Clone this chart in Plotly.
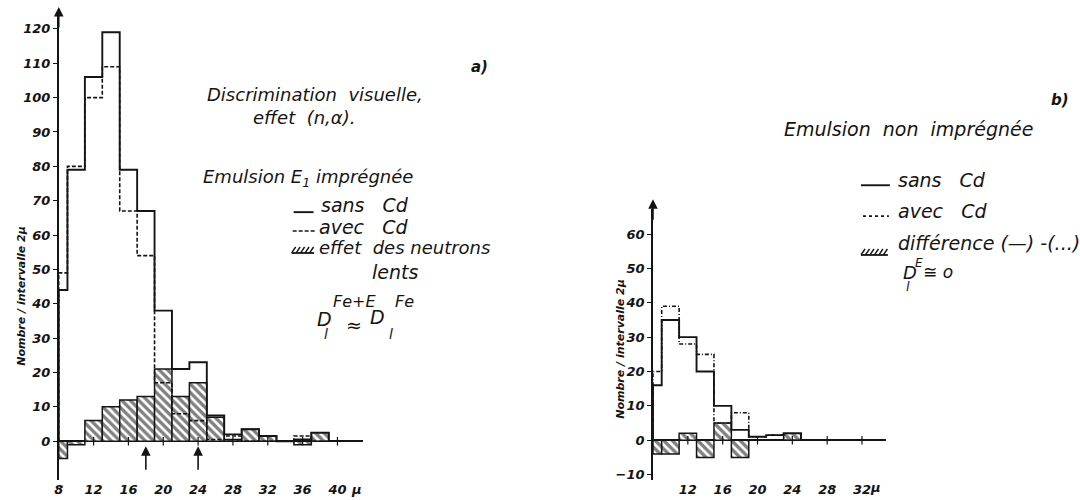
import plotly.graph_objects as go

W, H = 1080, 500
INK = "#141414"
FONT = "DejaVu Sans, sans-serif"

# a) emulsion E1 impregnee : bin edges (micron) and counts per bin
edges_a = [8, 9, 11, 13, 15, 17, 19, 21, 23, 25, 27, 29, 31, 33, 35, 37, 39]
sans_cd_a = [44, 79, 106, 119, 79, 67, 38, 21, 23, 7.5, 2, 3.5, 1.5, 0, 0.5, 2.5]
avec_cd_a = [49, 80, 100, 109, 67, 54, 17, 8, 6, 0.5, 1.5, 0, 0, 0, 1.5, 0]
effet_a = [-5, -1, 6, 10, 12, 13, 21, 13, 17, 7, 0.5, 3.5, 1.5, 0, -1, 2.5]

# b) emulsion non impregnee
edges_b = [8, 9, 11, 13, 15, 17, 19, 21, 23, 25]
sans_cd_b = [16, 35, 30, 20, 10, 3, 1, 1.5, 2]
avec_cd_b = [20, 39, 28, 25, 5, 8, 1, 1.5, 0]
diff_b = [-4, -4, 2, -5, 5, -5, 0, 0, 2]

xticks_a = [8, 12, 16, 20, 24, 28, 32, 36, 40]
xticks_b = [12, 16, 20, 24, 28, 32]
yticks_a = [0, 10, 20, 30, 40, 50, 60, 70, 80, 90, 100, 110, 120]
yticks_b = [-10, 0, 10, 20, 30, 40, 50, 60]
arrows_a = [18, 24]


def px(x):
    return x / W


def py(y):
    return 1 - y / H


def steps(edges, vals):
    return [edges[0]] + edges, [0] + vals + [0]


def bins(edges):
    centers = [(a + b) / 2 for a, b in zip(edges[:-1], edges[1:])]
    widths = [b - a for a, b in zip(edges[:-1], edges[1:])]
    return centers, widths


fig = go.Figure()

# hatched difference bars (drawn first, outlines on top)
for edges, diff, xa, ya in [(edges_a, effet_a, "x", "y"), (edges_b, diff_b, "x2", "y2")]:
    centers, widths = bins(edges)
    fig.add_trace(go.Bar(
        x=centers, y=diff, width=widths, xaxis=xa, yaxis=ya,
        marker=dict(
            color="white",
            line=dict(color=INK, width=1.5),
            pattern=dict(shape="\\", fgcolor="black", bgcolor="white", size=6, solidity=0.55),
        ),
        hoverinfo="skip",
    ))

# avec Cd / sans Cd outlines
for edges, vals, xa, ya, dash in [(edges_a, avec_cd_a, "x", "y", "4px,2px"),
                                  (edges_b, avec_cd_b, "x2", "y2", "4px,2px,1px,2px")]:
    sx, sy = steps(edges, vals)
    fig.add_trace(go.Scatter(x=sx, y=sy, xaxis=xa, yaxis=ya, mode="lines", line_shape="hv",
                             line=dict(color=INK, width=1.6, dash=dash), hoverinfo="skip"))

for edges, vals, xa, ya in [(edges_a, sans_cd_a, "x", "y"), (edges_b, sans_cd_b, "x2", "y2")]:
    sx, sy = steps(edges, vals)
    fig.add_trace(go.Scatter(x=sx, y=sy, xaxis=xa, yaxis=ya, mode="lines", line_shape="hv",
                             line=dict(color=INK, width=1.9), hoverinfo="skip"))

# small tick marks on the zero line
for ticks, xa, ya in [(xticks_a[1:], "x", "y"), (xticks_b, "x2", "y2")]:
    fig.add_trace(go.Scatter(x=ticks, y=[0] * len(ticks), xaxis=xa, yaxis=ya, mode="markers",
                             marker=dict(symbol="line-ns-open", size=6, color=INK,
                                         line=dict(color=INK, width=1.2)),
                             hoverinfo="skip"))

tickfont = dict(family=FONT, size=13, color=INK, style="italic", weight="bold")
xcommon = dict(showgrid=False, zeroline=False, showline=False, ticks="", tickfont=tickfont)
ycommon = dict(showgrid=False, showline=True, linecolor=INK, linewidth=1.6, ticks="outside",
               ticklen=4, tickcolor=INK, zeroline=True, zerolinecolor=INK, zerolinewidth=1.6,
               tickfont=tickfont)

fig.update_layout(
    width=W, height=H,
    margin=dict(l=0, r=0, t=0, b=0),
    paper_bgcolor="white", plot_bgcolor="white",
    showlegend=False, barmode="overlay",
    font=dict(family=FONT, color=INK),
    xaxis=dict(domain=[px(54), px(360)], range=[8, 8 + 306 / 8.75], anchor="y",
               tickvals=xticks_a, **xcommon),
    yaxis=dict(domain=[py(482), py(15)], range=[-(482 - 443) / 3.45, (443 - 15) / 3.45], anchor="x",
               tickvals=yticks_a, **ycommon),
    xaxis2=dict(domain=[px(651), px(885)], range=[8, 8 + 234 / 8.75], anchor="y2",
                tickvals=xticks_b, **xcommon),
    yaxis2=dict(domain=[py(482), py(210)], range=[-(482 - 442) / 3.45, (442 - 210) / 3.45], anchor="x2",
                tickvals=yticks_b, **ycommon),
)

# axis arrows
fig.add_annotation(x=8, y=py(7), xref="x", yref="paper", ax=0, ay=22, showarrow=True,
                   arrowhead=2, arrowsize=1.2, arrowwidth=1.6, arrowcolor=INK, text="")
fig.add_annotation(x=8, y=py(200), xref="x2", yref="paper", ax=0, ay=22, showarrow=True,
                   arrowhead=2, arrowsize=1.2, arrowwidth=1.6, arrowcolor=INK, text="")
for a in arrows_a:
    fig.add_annotation(x=a, y=py(448), xref="x", yref="paper", ax=0, ay=25, showarrow=True,
                       arrowhead=2, arrowsize=1.2, arrowwidth=1.6, arrowcolor=INK, text="")


def label(x, y, text, size=18, anchor="left", weight="normal", angle=0):
    fig.add_annotation(x=px(x), y=py(y), xref="paper", yref="paper", text=text, showarrow=False,
                       xanchor=anchor, yanchor="middle", textangle=angle, borderpad=0,
                       font=dict(family=FONT, size=size, color=INK, style="italic", weight=weight))


# micron units and y titles
label(353, 491, "µ", 13, "center", "bold")
label(875, 489, "µ", 13, "center", "bold")
label(17, 297, "Nombre / intervalle 2µ", 11, "center", "bold", -90)
label(618, 350, "Nombre / intervalle 2µ", 11, "center", "bold", -90)

# panel a) texts
label(477, 67, "a)", 15, "center", "bold")
label(311, 95, "Discrimination  visuelle,", 18, "center")
label(300, 118, "effet  (n,α).", 18, "center")
label(198, 179, "Emulsion E<sub>1</sub> imprégnée", 18)
label(316, 206, "sans   Cd", 19)
label(314, 228, "avec   Cd", 19)
label(314, 248, "effet  des neutrons", 18)
label(368, 273, "lents", 19)
label(329, 303, "Fe+E", 16)
label(391, 303, "Fe", 16)
label(312, 320, "D", 19)
label(319, 335, "l", 14)
label(342, 326, "≈", 19)
label(366, 318, "D", 19)
label(385, 335, "l", 14)

# panel b) texts
label(1060, 100, "b)", 15, "center", "bold")
label(782, 130, "Emulsion  non  imprégnée", 19)
label(896, 181, "sans   Cd", 19)
label(896, 212, "avec   Cd", 19)
label(896, 244, "différence (—) -(...)", 19)
label(901, 274, "D", 18)
label(904, 288, "l", 13)
label(913, 264, "E", 12)
label(921, 273, "≅ o", 17)

# legend glyphs
fig.add_shape(type="line", xref="paper", yref="paper", x0=px(290), x1=px(310), y0=py(213), y1=py(213),
              line=dict(color=INK, width=1.9))
fig.add_shape(type="line", xref="paper", yref="paper", x0=px(289), x1=px(313), y0=py(232), y1=py(232),
              line=dict(color=INK, width=1.6, dash="4px,2px"))
fig.add_shape(type="line", xref="paper", yref="paper", x0=px(860), x1=px(889), y0=py(186), y1=py(186),
              line=dict(color=INK, width=1.9))
fig.add_shape(type="line", xref="paper", yref="paper", x0=px(862), x1=px(888), y0=py(217), y1=py(217),
              line=dict(color=INK, width=1.6, dash="dot"))
for x0, y0, n in [(288, 254, 5), (860, 256, 6)]:
    fig.add_shape(type="line", xref="paper", yref="paper", x0=px(x0), x1=px(x0 + 4.5 * n), y0=py(y0), y1=py(y0),
                  line=dict(color=INK, width=1.8))
    for i in range(n):
        fig.add_shape(type="line", xref="paper", yref="paper",
                      x0=px(x0 + 4.5 * i), x1=px(x0 + 4.5 * i + 4), y0=py(y0), y1=py(y0 - 6),
                      line=dict(color=INK, width=1.4))

fig.write_html("out.html", config={"displayModeBar": False},
               post_script="document.body.style.margin = '0';")
